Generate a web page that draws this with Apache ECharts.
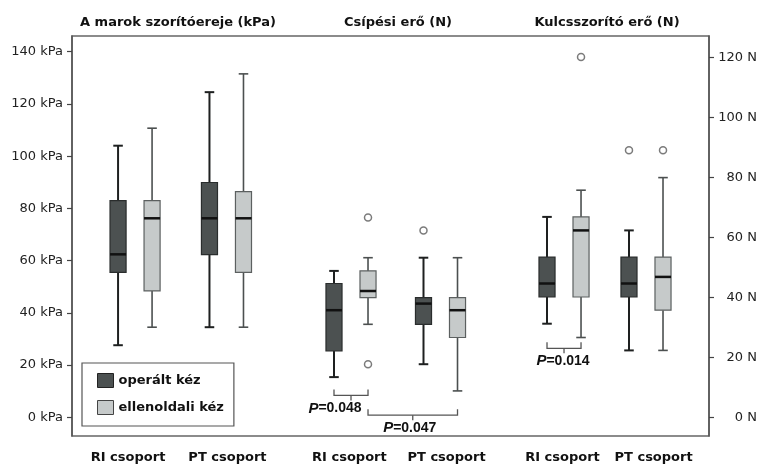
<!DOCTYPE html>
<html>
<head>
<meta charset="utf-8">
<script src="https://cdn.jsdelivr.net/npm/echarts@6/dist/echarts.min.js"></script>
<style>html,body{margin:0;padding:0;background:#fff;}#c{width:762px;height:464px;}</style>
</head>
<body>
<div id="c"></div>
<script>
// ---------- data ----------
const panelTitles = ['A marok szorítóereje (kPa)', 'Csípési erő (N)', 'Kulcsszorító erő (N)'];
const groupNames = ['RI csoport', 'PT csoport'];
const handNames = ['operált kéz', 'ellenoldali kéz'];
const kPaTicks = [0, 20, 40, 60, 80, 100, 120, 140];
const nTicks = [0, 20, 40, 60, 80, 100, 120];
// [min, Q1, median, Q3, max] for [RI, PT]
const marokOperalt = [[27.6, 55.5, 62.4, 83.0, 104.0], [34.5, 62.3, 76.2, 89.9, 124.5]];
const marokEllen = [[34.5, 48.4, 76.2, 83.0, 110.7], [34.5, 55.5, 76.2, 86.4, 131.5]];
const csipesiOperalt = [[13.4, 22.1, 35.7, 44.6, 48.8], [17.7, 31.0, 37.9, 39.9, 53.2]];
const csipesiEllen = [[31.0, 39.9, 42.1, 48.8, 53.2], [8.8, 26.6, 35.7, 39.9, 53.2]];
const kulcsOperalt = [[31.2, 40.1, 44.6, 53.4, 66.8], [22.3, 40.1, 44.6, 53.4, 62.3]];
const kulcsEllen = [[26.6, 40.1, 62.3, 66.8, 75.7], [22.3, 35.7, 46.8, 53.4, 79.9]];
// outliers: [group index, value]
const csipesiOperaltOut = [[1, 62.3]];
const csipesiEllenOut = [[0, 66.6], [0, 17.7]];
const kulcsOperaltOut = [[1, 89.0]];
const kulcsEllenOut = [[0, 120.1], [1, 89.0]];
const pValues = ['0.048', '0.047', '0.014'];
// bracket heights (N)
const bracketLevels = [7.3, 0.7, 23.0];

// ---------- layout (abstract x units 0..100) ----------
const pairCenters = [[9.9, 24.25], [43.8, 57.85], [77.24, 90.11]];
const labelCenters = [8.8, 24.4, 43.55, 58.8, 77.0, 91.3];
const titleCenters = [178, 398, 607];
const HALF_OFF = 2.67, BOX_HALF = 1.26, CAP_HALF = 0.75;

const boxPos = (panel, group, hand) => pairCenters[panel][group] + (hand === 0 ? -HALF_OFF : HALF_OFF);

const styles = [
  { fill: '#4c5151', border: '#2a2d2d', whisker: '#1e2020', ww: 2 },
  { fill: '#c6caca', border: '#5c6060', whisker: '#4c5050', ww: 1.6 }
];

function boxItems(panel, hand, arr) {
  return arr.map((v, g) => [boxPos(panel, g, hand)].concat(v));
}
function outItems(panel, hand, arr) {
  return arr.map(o => [boxPos(panel, o[0], hand), o[1]]);
}

function makeRender(st) {
  return function (params, api) {
    const x = api.value(0);
    const pMin = api.coord([x, api.value(1)]);
    const pQ1 = api.coord([x, api.value(2)]);
    const pMed = api.coord([x, api.value(3)]);
    const pQ3 = api.coord([x, api.value(4)]);
    const pMax = api.coord([x, api.value(5)]);
    const hw = api.size([BOX_HALF, 0])[0];
    const cw = api.size([CAP_HALF, 0])[0];
    const cx = pMin[0];
    const ls = { stroke: st.whisker, lineWidth: st.ww };
    return {
      type: 'group',
      children: [
        { type: 'line', shape: { x1: cx, y1: pQ3[1], x2: cx, y2: pMax[1] }, style: ls },
        { type: 'line', shape: { x1: cx, y1: pQ1[1], x2: cx, y2: pMin[1] }, style: ls },
        { type: 'line', shape: { x1: cx - cw, y1: pMax[1], x2: cx + cw, y2: pMax[1] }, style: ls },
        { type: 'line', shape: { x1: cx - cw, y1: pMin[1], x2: cx + cw, y2: pMin[1] }, style: ls },
        { type: 'rect', shape: { x: cx - hw, y: pQ3[1], width: 2 * hw, height: pQ1[1] - pQ3[1] },
          style: { fill: st.fill, stroke: st.border, lineWidth: 1.2 } },
        { type: 'line', shape: { x1: cx - hw, y1: pMed[1], x2: cx + hw, y2: pMed[1] },
          style: { stroke: '#111', lineWidth: 2.5 } }
      ]
    };
  };
}

function boxSeries(name, hand, yIdx, data) {
  return {
    type: 'custom', name: name, xAxisIndex: 0, yAxisIndex: yIdx,
    renderItem: makeRender(styles[hand]),
    itemStyle: { color: styles[hand].fill, borderColor: styles[hand].border },
    data: data, encode: { x: 0, y: [1, 2, 3, 4, 5] }, z: 3, silent: true
  };
}
function outSeries(yIdx, data) {
  return {
    type: 'scatter', name: 'outlier', xAxisIndex: 0, yAxisIndex: yIdx,
    symbol: 'circle', symbolSize: 7,
    itemStyle: { color: '#fff', borderColor: '#5a5a5a', borderWidth: 1.5 },
    data: data, z: 4, silent: true
  };
}

// brackets: [x1, x2, level, labelIndex, labelDx(px)]
const bracketData = [
  [boxPos(1, 0, 0), boxPos(1, 0, 1), bracketLevels[0], 0, -16],
  [boxPos(1, 0, 1), boxPos(1, 1, 1), bracketLevels[1], 1, -3],
  [boxPos(2, 0, 0), boxPos(2, 0, 1), bracketLevels[2], 2, -1]
];

function renderBracket(params, api) {
  const a = api.coord([api.value(0), api.value(2)]);
  const b = api.coord([api.value(1), api.value(2)]);
  const mid = (a[0] + b[0]) / 2;
  const st = { stroke: '#555', lineWidth: 1.3, fill: null };
  const idx = api.value(3);
  return {
    type: 'group',
    children: [
      { type: 'polyline', shape: { points: [[a[0], a[1] - 6], [a[0], a[1]], [b[0], b[1]], [b[0], b[1] - 6]] }, style: st },
      { type: 'line', shape: { x1: mid, y1: a[1], x2: mid, y2: a[1] + 5 }, style: st },
      { type: 'text', x: mid + api.value(4), y: a[1] + 13,
        style: {
          text: '{i|P}{b|=' + pValues[idx] + '}', align: 'center', verticalAlign: 'middle',
          rich: {
            i: { fontFamily: 'Liberation Sans', fontWeight: 'bold', fontStyle: 'italic', fontSize: 15, fill: '#111' },
            b: { fontFamily: 'Liberation Sans', fontWeight: 'bold', fontSize: 14, fill: '#111' }
          }
        } }
    ]
  };
}

const series = [
  boxSeries(handNames[0], 0, 0, boxItems(0, 0, marokOperalt)),
  boxSeries(handNames[1], 1, 0, boxItems(0, 1, marokEllen)),
  boxSeries(handNames[0], 0, 1, boxItems(1, 0, csipesiOperalt).concat(boxItems(2, 0, kulcsOperalt))),
  boxSeries(handNames[1], 1, 1, boxItems(1, 1, csipesiEllen).concat(boxItems(2, 1, kulcsEllen))),
  outSeries(1, outItems(1, 0, csipesiOperaltOut).concat(outItems(1, 1, csipesiEllenOut),
    outItems(2, 0, kulcsOperaltOut), outItems(2, 1, kulcsEllenOut))),
  { type: 'custom', name: 'brackets', xAxisIndex: 0, yAxisIndex: 1, renderItem: renderBracket,
    data: bracketData, encode: { x: [0, 1], y: 2 }, z: 5, silent: true }
];

const FONT = 'DejaVu Sans';
const xLabelVals = labelCenters;
const xLabelNames = [0, 1, 2, 3, 4, 5].map(i => groupNames[i % 2]);

const option = {
  backgroundColor: '#fff',
  animation: false,
  title: panelTitles.map((t, i) => ({
    text: t, left: titleCenters[i], top: 16, textAlign: 'center', padding: 0,
    textStyle: { fontFamily: FONT, fontWeight: 'bold', fontSize: 13, color: '#111' }
  })),
  legend: {
    orient: 'vertical', left: 82, top: 363,
    data: [
      { name: handNames[0], itemStyle: { color: styles[0].fill, borderColor: '#222', borderWidth: 1 } },
      { name: handNames[1], itemStyle: { color: styles[1].fill, borderColor: '#444', borderWidth: 1 } }
    ],
    icon: 'rect', itemWidth: 16, itemHeight: 14, itemGap: 12,
    padding: [10, 10, 11, 15],
    borderColor: '#555', borderWidth: 1.2, backgroundColor: '#fff',
    textStyle: { fontFamily: FONT, fontWeight: 'bold', fontSize: 13, color: '#111' },
    selectedMode: false
  },
  grid: { left: 72, right: 53, top: 36, bottom: 28, show: true, borderColor: '#666', borderWidth: 1.5, backgroundColor: 'transparent' },
  xAxis: {
    type: 'value', min: 0, max: 100,
    axisLine: { show: false }, axisTick: { show: false }, splitLine: { show: false },
    axisLabel: {
      customValues: xLabelVals, margin: 15,
      formatter: v => xLabelNames[xLabelVals.indexOf(v)] || '',
      fontFamily: FONT, fontWeight: 'bold', fontSize: 13, color: '#111'
    }
  },
  yAxis: [
    {
      type: 'value', position: 'left', min: -7.16, max: 146.0,
      axisLine: { show: true, lineStyle: { color: '#555', width: 1.5 } },
      axisTick: { show: true, customValues: kPaTicks, length: 5, lineStyle: { color: '#444', width: 1.2 } },
      axisLabel: { customValues: kPaTicks, formatter: '{value} kPa', margin: 9, fontFamily: FONT, fontSize: 13, color: '#222' },
      splitLine: { show: false }
    },
    {
      type: 'value', position: 'right', min: -6.23, max: 127.1,
      axisLine: { show: true, lineStyle: { color: '#555', width: 1.5 } },
      axisTick: { show: true, customValues: nTicks, length: 5, lineStyle: { color: '#444', width: 1.2 } },
      axisLabel: { customValues: nTicks, formatter: '{value} N', align: 'right', margin: 48, fontFamily: FONT, fontSize: 13, color: '#222' },
      splitLine: { show: false }
    }
  ],
  series: series
};

const chart = echarts.init(document.getElementById('c'), null, { renderer: 'canvas' });
chart.setOption(option);
</script>
</body>
</html>
